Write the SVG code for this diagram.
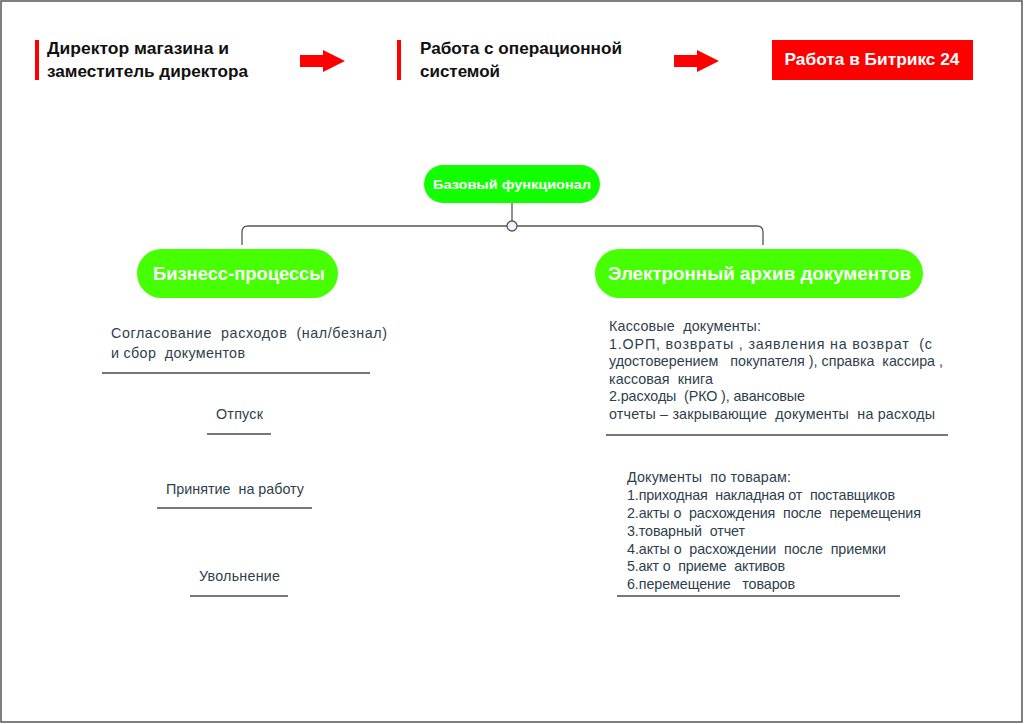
<svg xmlns="http://www.w3.org/2000/svg" width="1024" height="724" viewBox="0 0 1024 724">
<defs>
<style>
.hdr{font-family:"Liberation Sans",Arial,sans-serif;font-weight:bold;font-size:16.5px;fill:#111;}
.pill{font-family:"Liberation Sans",Arial,sans-serif;font-weight:bold;fill:#fff;text-anchor:middle;}
.body{font-family:"Liberation Sans",Arial,sans-serif;font-size:14.3px;fill:#2e3f4c;}
.ul{stroke:#4a4a4a;stroke-width:1.5;}
.conn{fill:none;stroke:#555;stroke-width:1.3;}
.bar{fill:#ff0000;}
</style>
<path id="arrow" d="M0,-6 H23 V-11 L45,0 L23,11 V6 H0 Z" fill="#ff0000"/>
</defs>
<rect x="0" y="0" width="1024" height="724" fill="#fff"/>
<rect x="1" y="1" width="1021" height="721" fill="none" stroke="#555" stroke-width="1.5"/>

<g id="header-director">
<rect class="bar" x="35" y="40" width="4" height="40"/>
<text class="hdr" x="47" y="54" textLength="182" lengthAdjust="spacingAndGlyphs">Директор магазина и</text>
<text class="hdr" x="47" y="77" textLength="201" lengthAdjust="spacingAndGlyphs">заместитель директора</text>
</g>
<g id="header-arrow1"><use href="#arrow" x="300" y="61"/></g>
<g id="header-os">
<rect class="bar" x="397" y="40" width="4" height="40"/>
<text class="hdr" x="420" y="54" textLength="202" lengthAdjust="spacingAndGlyphs">Работа с операционной</text>
<text class="hdr" x="420" y="77" textLength="80" lengthAdjust="spacingAndGlyphs">системой</text>
</g>
<g id="header-arrow2"><use href="#arrow" x="674" y="61"/></g>
<g id="header-bitrix">
<rect x="772" y="40" width="201" height="40" fill="#ff0000"/>
<text class="pill" x="872" y="65" font-size="16.5" textLength="175" lengthAdjust="spacingAndGlyphs">Работа в Битрикс 24</text>
</g>

<g id="connectors">
<line class="conn" x1="512" y1="203" x2="512" y2="221"/>
<path class="conn" d="M242,245 V232 Q242,226 248,226 H757 Q763,226 763,232 V245"/>
<circle cx="512" cy="226" r="5" fill="#eef4fa" stroke="#555" stroke-width="1.3"/>
</g>

<g id="node-base">
<rect x="424" y="165" width="176" height="38" rx="19" fill="#11ff00"/>
<text class="pill" x="512" y="189" font-size="13.5" textLength="158" lengthAdjust="spacingAndGlyphs">Базовый функционал</text>
</g>
<g id="node-business">
<rect x="137" y="249" width="201" height="49" rx="24.5" fill="#46ff00"/>
<text class="pill" x="239" y="280" font-size="18" textLength="172" lengthAdjust="spacingAndGlyphs">Бизнесс-процессы</text>
</g>
<g id="node-archive">
<rect x="595" y="249" width="328" height="49" rx="24.5" fill="#46ff00"/>
<text class="pill" x="759.5" y="280" font-size="18" textLength="303" lengthAdjust="spacingAndGlyphs">Электронный архив документов</text>
</g>

<g id="item-expenses">
<text class="body" x="111" y="338" xml:space="preserve" textLength="276">Согласование  расходов  (нал/безнал)</text>
<text class="body" x="111" y="358" xml:space="preserve" textLength="134">и сбор  документов</text>
<line class="ul" x1="102" y1="373" x2="370" y2="373"/>
</g>
<g id="item-vacation">
<text class="body" x="216" y="419" textLength="47">Отпуск</text>
<line class="ul" x1="207" y1="434" x2="271" y2="434"/>
</g>
<g id="item-hiring">
<text class="body" x="166" y="494" xml:space="preserve" textLength="138">Принятие  на работу</text>
<line class="ul" x1="157" y1="508" x2="312" y2="508"/>
</g>
<g id="item-dismissal">
<text class="body" x="199" y="581" textLength="81">Увольнение</text>
<line class="ul" x1="190" y1="596" x2="288" y2="596"/>
</g>

<g id="item-cash">
<text class="body" x="609" y="331" xml:space="preserve" textLength="152">Кассовые  документы:</text>
<text class="body" x="609" y="349" xml:space="preserve" textLength="323">1.ОРП, возвраты , заявления на возврат  (с</text>
<text class="body" x="609" y="366" xml:space="preserve" textLength="334">удостоверением   покупателя ), справка  кассира ,</text>
<text class="body" x="609" y="384" xml:space="preserve" textLength="104">кассовая  книга</text>
<text class="body" x="609" y="401" xml:space="preserve" textLength="196">2.расходы  (РКО ), авансовые</text>
<text class="body" x="609" y="419" xml:space="preserve" textLength="326">отчеты – закрывающие  документы  на расходы</text>
<line class="ul" x1="606" y1="435" x2="948" y2="435"/>
</g>
<g id="item-goods">
<text class="body" x="627" y="482" xml:space="preserve" textLength="164">Документы  по товарам:</text>
<text class="body" x="627" y="500" xml:space="preserve" textLength="268">1.приходная  накладная от  поставщиков</text>
<text class="body" x="627" y="518" xml:space="preserve" textLength="294">2.акты о  расхождения  после  перемещения</text>
<text class="body" x="627" y="536" xml:space="preserve" textLength="118">3.товарный  отчет</text>
<text class="body" x="627" y="554" xml:space="preserve" textLength="259">4.акты о  расхождении  после  приемки</text>
<text class="body" x="627" y="571" xml:space="preserve" textLength="158">5.акт о  приеме  активов</text>
<text class="body" x="627" y="589" xml:space="preserve" textLength="168">6.перемещение   товаров</text>
<line class="ul" x1="617" y1="596" x2="900" y2="596"/>
</g>
</svg>
